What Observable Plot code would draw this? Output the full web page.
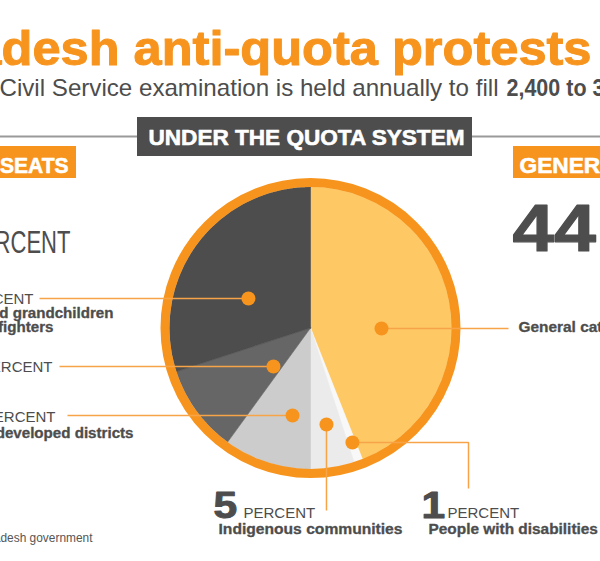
<!DOCTYPE html>
<html><head><meta charset="utf-8">
<script src="https://cdn.jsdelivr.net/npm/d3@7"></script>
<script src="https://cdn.jsdelivr.net/npm/@observablehq/plot@0.6"></script>
<style>
html,body{margin:0;padding:0;background:#fff;}
#chart{width:600px;height:561px;overflow:hidden;}
</style></head><body><div id="chart"></div>
<script>
// ---------------- DATA ----------------
const categories = ["General category", "People with disabilities", "Indigenous communities", "Underdeveloped districts", "Women", "Children and grandchildren of freedom fighters"];
const categoryLines = [["General category"], ["People with disabilities"], ["Indigenous communities"], ["Underdeveloped districts"], ["Women"], ["Children and grandchildren", "of freedom fighters"]];
const values = [44, 1, 5, 10, 10, 30];
const titleText = "Bangladesh anti-quota protests";
const subtitleText = "The Bangladesh Civil Service examination is held annually to fill";
const subtitleBold = "2,400 to 3,000 positions";
const sectionTitle = "UNDER THE QUOTA SYSTEM";
const quotaHeader = "QUOTA SEATS";
const generalHeader = "GENERAL SEATS";
const unitLabel = "PERCENT";
const sourceText = "Source: Bangladesh government";

// ---------------- STYLE / LAYOUT ----------------
const sliceColors = ["#fec965", "#f8f8f8", "#ebebeb", "#cccccc", "#666666", "#4d4d4d"];
const ORANGE = "#f7941d", DARK = "#4d4d4d", LEADER = "#f7a448";
const FONT = "'Liberation Sans', Arial, Helvetica, sans-serif";
const CX = 310, CY = 327.5, R = 141, RING_R = 145.5, RING_W = 9;
const rad = d => d * Math.PI / 180;
const polar = (deg, r) => ({x: CX + r * Math.sin(rad(deg)), y: CY - r * Math.cos(rad(deg))});

// pie slices from the values
const total = d3.sum(values);
let acc = 0;
const slices = values.map((v, i) => {
  const a0 = acc / total * 360; acc += v; const a1 = acc / total * 360;
  const pts = [polar(0, 0)];
  for (let a = a0; a < a1; a += 0.5) pts.push(polar(a, R));
  pts.push(polar(a1, R)); pts.push(polar(0, 0));
  return {name: categories[i], color: sliceColors[i], pts};
});

// callout dots (polar placement inside slices) and leader routes
const callouts = [
  {angle: 90.4, r: 71, route: d => [d, {x: 508, y: d.y}]},
  {angle: 159.9, r: 122, route: d => [d, {x: 468, y: d.y}, {x: 468, y: 488}]},
  {angle: 170.6, r: 97.8, route: d => [d, {x: d.x, y: 510}]},
  {angle: 191.6, r: 89.3, route: d => [d, {x: 67, y: d.y}]},
  {angle: 223.9, r: 53.4, route: d => [d, {x: 59, y: d.y}]},
  {angle: 295.4, r: 68.7, route: d => [d, {x: 39, y: d.y}]}
];
const dots = callouts.map((c, i) => ({...polar(c.angle, c.r), name: categories[i]}));
const leaders = callouts.flatMap((c, i) => c.route(dots[i]).map(p => ({x: p.x, y: p.y, name: categories[i]})));

// text layout
const texts = [
  {text: titleText, fit: {visible: "desh anti-quota protests", x0: 1, x1: 591}, y: 64, size: 48, weight: "bold", color: ORANGE, stroke: 1},
  {text: subtitleText, fit: {visible: "Civil Service examination is held annually to fill", x0: -1, x1: 498}, y: 95, size: 24, weight: "normal", color: DARK},
  {text: subtitleBold, fit: {visible: "2,400 to ", x0: 506, x1: 592}, y: 95, size: 24, weight: "bold", color: DARK},
  {text: sectionTitle, fit: {visible: sectionTitle, x0: 148, x1: 464}, y: 144.5, size: 22, weight: "bold", color: "#fff", stroke: 0.6},
  {text: quotaHeader, end: 68, s: 0.95, y: 172, size: 22, weight: "bold", color: "#fff", stroke: 0.6},
  {text: generalHeader, start: 519, s: 1.03, y: 172, size: 22, weight: "bold", color: "#fff", stroke: 0.6},
  {text: String(values[0]), start: 512, s: 1.12, y: 250, size: 67, weight: "bold", color: DARK, stroke: 1.2},
  {text: unitLabel, fit: {visible: "CENT", x0: 10, x1: 70}, y: 252, size: 31, weight: "normal", color: DARK},
  {text: unitLabel, end: 33, y: 303, size: 15, weight: "normal", color: DARK},
  {text: categoryLines[5][0], end: 113, s: 1.08, y: 317, size: 14, weight: "bold", color: DARK, stroke: 0.3},
  {text: categoryLines[5][1], end: 53, s: 1.08, y: 331, size: 14, weight: "bold", color: DARK, stroke: 0.3},
  {text: unitLabel, end: 52, y: 371, size: 15, weight: "normal", color: DARK},
  {text: unitLabel, end: 55, y: 421, size: 15, weight: "normal", color: DARK},
  {text: categoryLines[3][0], end: 133, s: 1.08, y: 437, size: 14, weight: "bold", color: DARK, stroke: 0.3},
  {text: String(values[2]), start: 213, s: 1.15, y: 517, size: 37, weight: "bold", color: DARK, stroke: 1},
  {text: unitLabel, start: 243, y: 517, size: 15, weight: "normal", color: DARK},
  {text: categoryLines[2][0], fit: {visible: categoryLines[2][0], x0: 218, x1: 402}, y: 533, size: 14, weight: "bold", color: DARK, stroke: 0.3},
  {text: String(values[1]), start: 421, s: 1.15, y: 517, size: 37, weight: "bold", color: DARK, stroke: 1},
  {text: unitLabel, start: 447, y: 517, size: 15, weight: "normal", color: DARK},
  {text: categoryLines[1][0], start: 428, s: 1.1, y: 533, size: 14, weight: "bold", color: DARK, stroke: 0.3},
  {text: categoryLines[0][0], start: 518, s: 1.1, y: 331, size: 14, weight: "bold", color: DARK, stroke: 0.3},
  {text: sourceText, fit: {visible: "desh government", x0: 0, x1: 92}, y: 541, size: 12, weight: "normal", color: "#555"}
];

const ctx = document.createElement("canvas").getContext("2d");
const measure = (str, t) => { ctx.font = `${t.weight} ${t.size}px ${FONT}`; return ctx.measureText(str).width; };
const laid = texts.map(t => {
  const W = measure(t.text, t);
  let s = t.s ?? 1, x;
  if (t.fit) {
    const k = t.text.indexOf(t.fit.visible);
    s = (t.fit.x1 - t.fit.x0) / measure(t.fit.visible, t);
    x = t.fit.x0 - s * measure(t.text.slice(0, k), t);
  } else if (t.end != null) x = t.end - s * W;
  else x = t.start;
  return {...t, x, len: s * W};
});

const boxes = [
  {x1: 137, x2: 472, y1: 117, y2: 156, color: DARK},
  {x1: -5, x2: 76, y1: 146, y2: 178, color: ORANGE},
  {x1: 513, x2: 610, y1: 146, y2: 178, color: ORANGE}
];

const marks = [
  Plot.ruleY([136], {stroke: "#9a9a9a", strokeWidth: 2}),
  ...boxes.map(b => Plot.rect([b], {x1: "x1", x2: "x2", y1: "y1", y2: "y2", fill: b.color})),
  ...slices.map(s => Plot.line(s.pts, {x: "x", y: "y", fill: s.color, stroke: s.color, strokeWidth: 0.6, curve: "linear"})),
  Plot.dot([{x: CX, y: CY}], {x: "x", y: "y", r: RING_R, stroke: ORANGE, strokeWidth: RING_W, fill: "none"}),
  Plot.line(leaders, {x: "x", y: "y", z: "name", stroke: LEADER, strokeWidth: 1.5, strokeLinejoin: "miter", strokeLinecap: "butt"}),
  Plot.dot(dots, {x: "x", y: "y", r: 7, fill: ORANGE, stroke: "none"}),
  ...laid.map(t => Plot.text([t], {
    x: "x", y: "y", text: "text", textAnchor: "start", lineAnchor: "bottom",
    fontSize: t.size, fontWeight: t.weight, fontFamily: FONT, fill: t.color,
    ...(t.stroke ? {stroke: t.color, strokeWidth: t.stroke, paintOrder: "stroke"} : {})
  }))
];

const svg = Plot.plot({
  width: 600, height: 561, margin: 0,
  x: {type: "linear", domain: [0, 600], range: [0, 600], axis: null},
  y: {type: "linear", domain: [0, 561], range: [0, 561], axis: null},
  style: {background: "#fff", overflow: "hidden"},
  marks
});

const els = svg.querySelectorAll("text");
laid.forEach((t, k) => {
  const el = els[k];
  if (!el) return;
  el.setAttribute("textLength", t.len.toFixed(2));
  el.setAttribute("lengthAdjust", "spacingAndGlyphs");
});
document.getElementById("chart").appendChild(svg);
</script>
</body></html>
